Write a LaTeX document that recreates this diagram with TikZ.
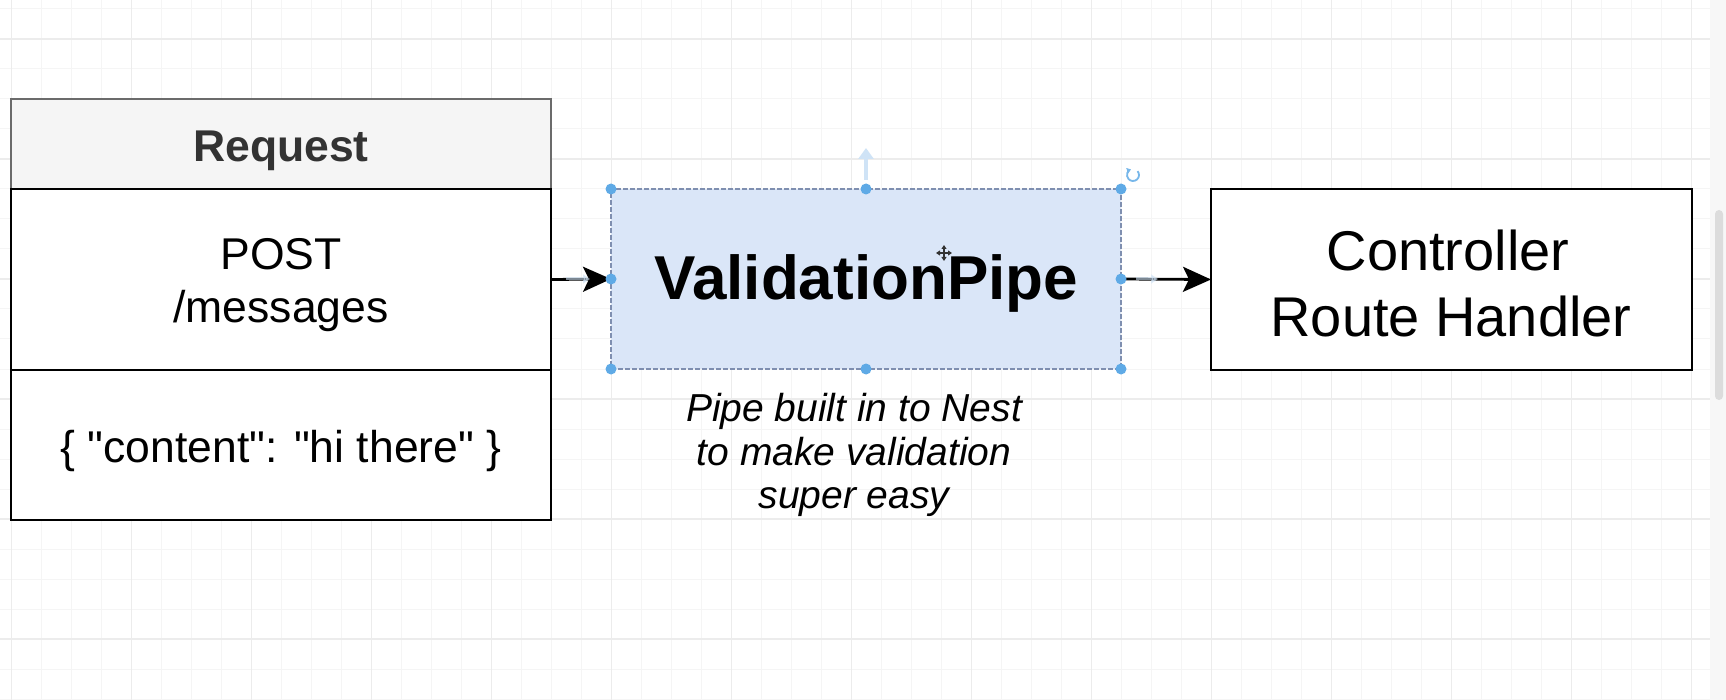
\documentclass[tikz,border=0pt]{standalone}
\usepackage{fontspec}
\setmainfont{Liberation Sans}[Ligatures=TeXOff]
\usetikzlibrary{arrows.meta}

\definecolor{gridminor}{HTML}{F5F5F5}
\definecolor{gridmajor}{HTML}{ECECEC}
\definecolor{headfill}{HTML}{F5F5F5}
\definecolor{headline}{HTML}{6B6B6B}
\definecolor{headtext}{HTML}{333333}
\definecolor{pipefill}{HTML}{DAE6F8}
\definecolor{selline}{HTML}{7F8FB0}
\definecolor{handle}{HTML}{5FAAE6}
\definecolor{hint}{HTML}{CFE3F6}
\definecolor{strip}{HTML}{F7F7F7}
\definecolor{scroll}{HTML}{DCDCDC}

\tikzset{
  panel/.style={rectangle, draw=black, line width=2.6pt, fill=white,
                inner sep=0pt, outer sep=0pt},
  headpanel/.style={panel, draw=headline, fill=headfill},
  pipepanel/.style={rectangle, fill=pipefill, draw=selline, line width=1.8pt,
                dash pattern=on 5pt off 2pt, inner sep=0pt, outer sep=0pt},
  lbl/.style={inner sep=0pt, outer sep=0pt, anchor=base},
  body/.style={lbl, font={\fontsize{44.5pt}{53pt}\selectfont}},
  conn/.style={line width=2.8pt, -{Stealth[length=28pt,width=25pt,inset=6pt]}},
  handledot/.style={fill=handle},
}

\begin{document}
\begin{tikzpicture}[x=1pt,y=-1pt]
  \useasboundingbox (0,0) rectangle (1726,700);
  \fill[white] (0,0) rectangle (1726,700);

  % canvas grid
  \foreach \gx in {11.7,41.7,...,1705} \draw[gridminor, line width=1pt] (\gx,0) -- (\gx,700);
  \foreach \gy in {9,39,...,700} \draw[gridminor, line width=1pt] (0,\gy) -- (1710,\gy);
  \foreach \gx in {11.7,131.7,...,1705} \draw[gridmajor, line width=1.2pt] (\gx,0) -- (\gx,700);
  \foreach \gy in {39,159,...,700} \draw[gridmajor, line width=1.2pt] (0,\gy) -- (1710,\gy);

  % scroll strip on the right
  \fill[strip] (1710,0) rectangle (1726,700);
  \fill[scroll, rounded corners=4pt] (1715,210) rectangle (1723,400);

  % request container
  \node[headpanel, minimum width=540pt, minimum height=90pt] (reqhead) at (281,144) {};
  \node[panel, minimum width=540pt, minimum height=181pt] (reqmid) at (281,279.5) {};
  \node[panel, minimum width=540pt, minimum height=150pt] (reqbody) at (281,445) {};
  \node[lbl, font={\fontsize{44.5pt}{53pt}\selectfont\bfseries}, text=headtext] (reqtitle) at (281,162) {Request};
  \node[body] (reqverb) at (281,270) {POST};
  \node[body] (reqpath) at (281,323) {/messages};
  \node[body] (reqjson) at (281,462) {\{ "content": "hi there" \}};

  % validation pipe (selected)
  \node[pipepanel, minimum width=510pt, minimum height=180pt] (pipe) at (866,279) {};
  \node[lbl, font={\fontsize{62pt}{70pt}\selectfont\bfseries}] (pipetitle) at (866,300) {ValidationPipe};

  % caption under the pipe
  \node[lbl, font={\fontsize{39pt}{44pt}\selectfont\itshape}] (cap1) at (854,421) {Pipe built in to Nest};
  \node[lbl, font={\fontsize{39pt}{44pt}\selectfont\itshape}] (cap2) at (854,465) {to make validation};
  \node[lbl, font={\fontsize{39pt}{44pt}\selectfont\itshape}] (cap3) at (854,508) {super easy};

  % controller
  \node[panel, minimum width=481pt, minimum height=181pt] (ctrl) at (1451.5,279.5) {};
  \node[lbl, font={\fontsize{56pt}{66pt}\selectfont}] (ctrl1) at (1448,271) {Controller};
  \node[lbl, font={\fontsize{56pt}{66pt}\selectfont}] (ctrl2) at (1451,337) {Route Handler};

  % connectors
  \draw[conn] (reqmid.east) -- (pipe.west);
  \draw[conn] (pipe.east) -- (ctrl.west);

  % faint hover hints on the connectors
  \coordinate (hintLa) at (566,279);
  \coordinate (hintLb) at (590,279);
  \coordinate (hintRa) at (1136,279);
  \coordinate (hintRb) at (1158,279);
  \draw[hint, opacity=0.6, line width=3pt, -{Triangle[length=7pt,width=9pt]}] (hintLa) -- (hintLb);
  \draw[hint, opacity=0.6, line width=3pt, -{Triangle[length=7pt,width=9pt]}] (hintRa) -- (hintRb);

  % selection handles
  \foreach \a in {north west,north,north east,west,east,south west,south,south east}
    \fill[handledot] (pipe.\a) circle (5.5pt);

  % resize hint above the pipe
  \coordinate (upA) at (866,180);
  \coordinate (upB) at (866,148);
  \draw[hint, line width=4pt, -{Triangle[length=11pt,width=15pt]}] (upA) -- (upB);

  % rotate handle
  \coordinate (rot) at (1133,175);
  \draw[handle!85, line width=1.8pt, -{Triangle[length=4pt,width=5.5pt]}]
    ([shift={(-40:6)}]rot) arc[start angle=-40, end angle=250, radius=6];

  % move cursor
  \coordinate (cur) at (944,253);
  \draw[black!80, line width=1.5pt, {Triangle[length=4pt,width=5pt]}-{Triangle[length=4pt,width=5pt]}]
    ([xshift=-8pt]cur) -- ([xshift=8pt]cur);
  \draw[black!80, line width=1.5pt, {Triangle[length=4pt,width=5pt]}-{Triangle[length=4pt,width=5pt]}]
    ([yshift=-8pt]cur) -- ([yshift=8pt]cur);
\end{tikzpicture}
\end{document}
